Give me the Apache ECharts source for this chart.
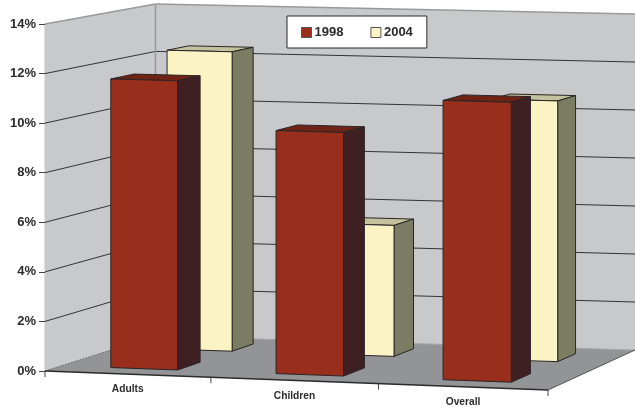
<!DOCTYPE html>
<html>
<head>
<meta charset="utf-8">
<style>html,body{margin:0;padding:0;background:#fff}#chart{width:635px;height:410px}</style>
<script src="https://cdn.jsdelivr.net/npm/echarts@6/dist/echarts.min.js"></script>
</head>
<body>
<div id="chart"></div>
<script>
// Data
const categories = ['Adults', 'Children', 'Overall'];
const values1998 = [11.7, 9.8, 11.2];
const values2004 = [12.4, 5.4, 10.7];
const yTicks = [0, 2, 4, 6, 8, 10, 12, 14];

// Box geometry: the front plane is the grid itself, the rear plane is where
// it lands after the oblique projection.
const BOX = {
  frontLeft:  { x: 45,    bottom: 371, top: 24 },
  frontRight: { x: 548,   bottom: 390, top: 37 },
  backLeft:   { x: 155.5, bottom: 336, top: 4 },
  backRight:  { x: 635,   bottom: 350, top: 14 }
};
const YMAX = 14;
const BAR_SPAN = [0.30, 0.705];
const DEPTH_1998 = [0.15, 0.365];
const DEPTH_2004 = [0.67, 0.87];
const PERSPECTIVE_BOW = -0.016;

const lerp = (a, b, t) => a + (b - a) * t;

// Takes a position along the category bands, a depth into the box and a value.
function project(api, band, depth, value) {
  const first = api.coord([0, 0]);
  const raw = band / categories.length;
  const u = raw + PERSPECTIVE_BOW * raw * (1 - raw);
  const v = (first[1] - api.coord([0, value])[1]) / (first[1] - api.coord([0, YMAX])[1]);
  const b = BOX;
  const x = lerp(lerp(b.frontLeft.x, b.frontRight.x, u), lerp(b.backLeft.x, b.backRight.x, u), depth);
  const yb = lerp(lerp(b.frontLeft.bottom, b.frontRight.bottom, u), lerp(b.backLeft.bottom, b.backRight.bottom, u), depth);
  const yt = lerp(lerp(b.frontLeft.top, b.frontRight.top, u), lerp(b.backLeft.top, b.backRight.top, u), depth);
  return [x, lerp(yb, yt, v)];
}

const poly = (points, fill, stroke, w) => ({
  type: 'polygon',
  shape: { points },
  style: { fill, stroke: stroke || 'none', lineWidth: w || 0, lineJoin: 'round' }
});
const seg = (a, b, stroke, w, dash) => ({
  type: 'line',
  shape: { x1: a[0], y1: a[1], x2: b[0], y2: b[1] },
  style: { stroke, lineWidth: w, lineDash: dash || null, fill: 'none' }
});

// Walls, floor, gridlines, ticks and category labels of the box
function renderBox(params, api) {
  const n = categories.length;
  const P = (band, depth, value) => project(api, band, depth, value);
  const kids = [];
  const wall = '#c8c9cb', floor = '#929497', edge = '#98999b', ink = '#2b2b2b';

  kids.push(poly([P(0,0,0), P(0,1,0), P(0,1,YMAX), P(0,0,YMAX)], wall));
  kids.push(poly([P(0,1,0), P(n,1,0), P(n,1,YMAX), P(0,1,YMAX)], wall));
  kids.push(poly([P(0,0,0), P(n,0,0), P(n,1,0), P(0,1,0)], floor));

  yTicks.forEach(t => {
    if (t === 0 || t === YMAX) return;
    kids.push(seg(P(0,0,t), P(0,1,t), '#333', 1));
    kids.push(seg(P(0,1,t), P(n,1,t), '#333', 1));
  });

  kids.push(seg(P(0,0,YMAX), P(0,1,YMAX), edge, 1.5));
  kids.push(seg(P(0,1,YMAX), P(n,1,YMAX), edge, 1.5));
  kids.push(seg(P(0,1,0), P(0,1,YMAX), edge, 1.5));
  kids.push(seg(P(0,1,0), P(n,1,0), '#a3a4a6', 1));
  kids.push(seg(P(0,0,0), P(0,1,0), '#6a6b6d', 1, [2, 1]));
  kids.push(seg(P(0,0,0), P(n,0,0), ink, 1.3));
  kids.push(seg(P(n,0,0), P(n,1,0), '#555', 1));

  for (let i = 0; i <= n; i++) {
    const p = P(i, 0, 0);
    kids.push(seg(p, [p[0], p[1] + 6], '#444', 1));
  }
  categories.forEach((name, i) => {
    const p = P(i + 0.5, 0, 0);
    kids.push({
      type: 'text',
      style: {
        x: p[0], y: p[1] + 15.5, text: name, fill: ink,
        font: 'bold 10.2px "Liberation Sans", Arial, sans-serif',
        align: 'center', verticalAlign: 'middle'
      }
    });
  });
  return { type: 'group', children: kids };
}

// One 3D column: front, top and side faces
function barRenderer(depth, colors) {
  return function (params, api) {
    const i = api.value(0), v = api.value(1);
    const [a, b] = [i + BAR_SPAN[0], i + BAR_SPAN[1]];
    const [d0, d1] = depth;
    const P = (band, d, val) => project(api, band, d, val);
    const line = '#2a2426';
    return {
      type: 'group',
      children: [
        poly([P(a,d0,v), P(a,d1,v), P(b,d1,v), P(b,d0,v)], colors.top, line, 1),
        poly([P(b,d0,0), P(b,d1,0), P(b,d1,v), P(b,d0,v)], colors.side, line, 1),
        poly([P(a,d0,0), P(b,d0,0), P(b,d0,v), P(a,d0,v)], colors.front, line, 1)
      ]
    };
  };
}

const toData = arr => arr.map((v, i) => [i, v]);

const chart = echarts.init(document.getElementById('chart'), null, { renderer: 'canvas' });
chart.setOption({
  animation: false,
  backgroundColor: '#ffffff',
  grid: { left: 45, top: 24, width: 503, height: 347 },
  legend: {
    data: ['1998', '2004'],
    left: 287, top: 16,
    padding: [10, 14, 9, 14],
    itemWidth: 10, itemHeight: 10, itemGap: 27,
    backgroundColor: '#ffffff',
    borderColor: '#2b2b2b', borderWidth: 1,
    selectedMode: false,
    icon: 'rect',
    textStyle: {
      fontFamily: '"Liberation Sans", Arial, sans-serif',
      fontWeight: 'bold', fontSize: 13, color: '#2b2b2b',
      padding: [0, 0, 0, -2]
    },
    itemStyle: { borderColor: '#555', borderWidth: 1 }
  },
  xAxis: { type: 'category', data: categories, show: false },
  yAxis: {
    type: 'value', min: 0, max: YMAX, interval: 2,
    axisLine: { show: true, lineStyle: { color: '#3a3a3a', width: 1.3 } },
    axisTick: { show: true, length: 6, lineStyle: { color: '#444' } },
    splitLine: { show: false },
    axisLabel: {
      margin: 9,
      padding: [2, 0, 0, 0],
      formatter: '{value}%',
      fontFamily: '"Liberation Sans", Arial, sans-serif',
      fontWeight: 'bold', fontSize: 13, color: '#2b2b2b'
    }
  },
  series: [
    {
      name: 'box', type: 'custom', coordinateSystem: 'cartesian2d', clip: false,
      silent: true, z: 1, data: [[0, 0]], encode: { x: 0, y: 1 },
      renderItem: renderBox
    },
    {
      name: '2004', type: 'custom', coordinateSystem: 'cartesian2d', clip: false, z: 2,
      itemStyle: { color: '#fbf3c3' },
      data: toData(values2004), encode: { x: 0, y: 1 },
      renderItem: barRenderer(DEPTH_2004, { front: '#fbf3c3', side: '#7b7d63', top: '#c4c29c' })
    },
    {
      name: '1998', type: 'custom', coordinateSystem: 'cartesian2d', clip: false, z: 3,
      itemStyle: { color: '#992e1d' },
      data: toData(values1998), encode: { x: 0, y: 1 },
      renderItem: barRenderer(DEPTH_1998, { front: '#992e1d', side: '#3f2022', top: '#6e2314' })
    }
  ]
});
</script>
</body>
</html>
